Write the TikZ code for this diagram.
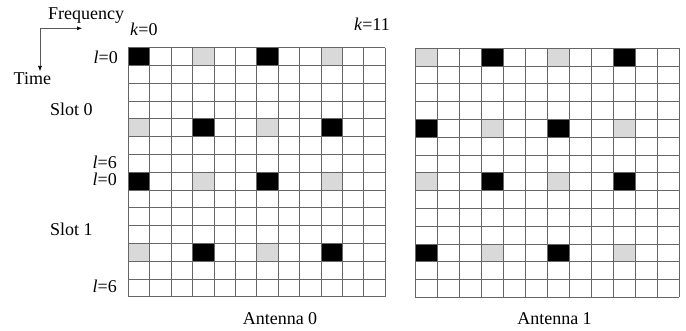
\documentclass[tikz,border=0pt]{standalone}
\usepackage{fontspec}
\setmainfont{Liberation Serif}
\usetikzlibrary{arrows.meta}
\begin{document}
\begin{tikzpicture}[x=1pt,y=-1pt,
  lbl/.style={font=\fontsize{18}{20}\selectfont, inner sep=0pt},
  gridline/.style={draw=gray!80!black, line width=0.8pt},
  pilot/.style={fill=black},
  nulled/.style={fill=black!15},
  axis/.style={draw=gray!70!black, line width=0.6pt, -{Latex[length=5pt,width=4pt,color=black]}}]
\useasboundingbox (0,0) rectangle (686,331);
% ---------- left grid (Antenna 0) ----------
\def\xa{128.3}\def\wa{21.4}\def\ya{47.7}\def\h{17.8}
\foreach \r in {0,7}{
  \foreach \c in {0,6}{\fill[pilot] ({\xa+\c*\wa},{\ya+\r*\h}) rectangle ++(\wa,\h);}
  \foreach \c in {3,9}{\fill[nulled] ({\xa+\c*\wa},{\ya+\r*\h}) rectangle ++(\wa,\h);}
}
\foreach \r in {4,11}{
  \foreach \c in {3,9}{\fill[pilot] ({\xa+\c*\wa},{\ya+\r*\h}) rectangle ++(\wa,\h);}
  \foreach \c in {0,6}{\fill[nulled] ({\xa+\c*\wa},{\ya+\r*\h}) rectangle ++(\wa,\h);}
}
\foreach \i in {0,...,12} \draw[gridline] ({\xa+\i*\wa},\ya) -- ++(0,{14*\h});
\foreach \j in {0,...,14} \draw[gridline] (\xa,{\ya+\j*\h}) -- ++({12*\wa},0);
% ---------- right grid (Antenna 1) ----------
\def\xb{415}\def\wb{22}\def\yb{48.3}
\foreach \r in {0,7}{
  \foreach \c in {3,9}{\fill[pilot] ({\xb+\c*\wb},{\yb+\r*\h}) rectangle ++(\wb,\h);}
  \foreach \c in {0,6}{\fill[nulled] ({\xb+\c*\wb},{\yb+\r*\h}) rectangle ++(\wb,\h);}
}
\foreach \r in {4,11}{
  \foreach \c in {0,6}{\fill[pilot] ({\xb+\c*\wb},{\yb+\r*\h}) rectangle ++(\wb,\h);}
  \foreach \c in {3,9}{\fill[nulled] ({\xb+\c*\wb},{\yb+\r*\h}) rectangle ++(\wb,\h);}
}
\foreach \i in {0,...,12} \draw[gridline] ({\xb+\i*\wb},\yb) -- ++(0,{14*\h});
\foreach \j in {0,...,14} \draw[gridline] (\xb,{\yb+\j*\h}) -- ++({12*\wb},0);
% ---------- axes ----------
\coordinate (corner) at (40,28.3);
\coordinate (fend) at (82,28.3);
\coordinate (tend) at (40,71);
\draw[axis] (corner) -- (fend);
\draw[axis] (corner) -- (tend);
% ---------- labels ----------
\node[lbl, anchor=base west] (freq) at (48,19.5) {Frequency};
\node[lbl, anchor=base west] (time) at (13.5,85) {Time};
\node[lbl, anchor=base west] (k0) at (130,35.5) {\textit{k}=0};
\node[lbl, anchor=base east] (k11) at (390,31) {\textit{k}=11};
\node[lbl, anchor=base east] (l0a) at (118,63.5) {\textit{l}=0};
\node[lbl, anchor=base west] (slot0) at (50,116) {Slot 0};
\node[lbl, anchor=base east] (l6a) at (117,169) {\textit{l}=6};
\node[lbl, anchor=base east] (l0b) at (117,186) {\textit{l}=0};
\node[lbl, anchor=base west] (slot1) at (50,236) {Slot 1};
\node[lbl, anchor=base east] (l6b) at (117,293) {\textit{l}=6};
\node[lbl, anchor=base] (ant0) at (280,325) {Antenna 0};
\node[lbl, anchor=base] (ant1) at (554.5,325) {Antenna 1};
\end{tikzpicture}
\end{document}
